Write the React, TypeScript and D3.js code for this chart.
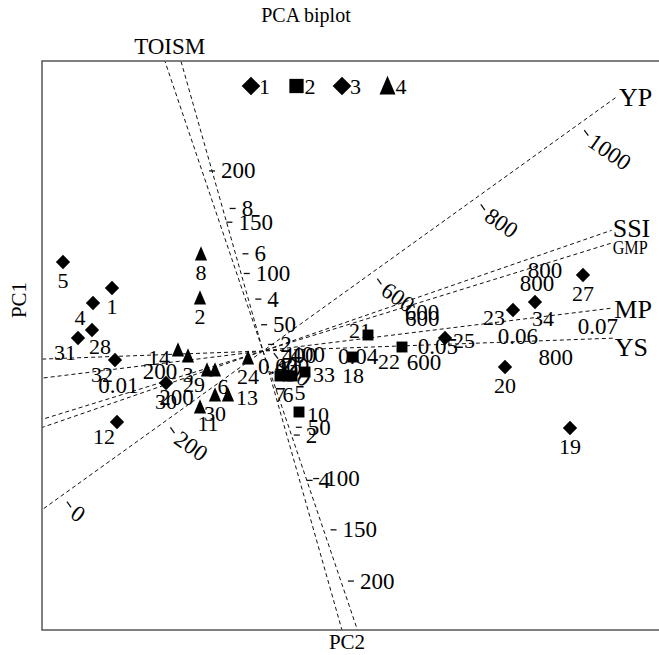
import React from 'react';
import * as d3 from 'd3';

const W = 659;
const H = 655;

// genotype scores: pc2 horizontal, pc1 vertical
const genotype = ['5', '4', '1', '31', '28', '32', '12', '30', '8', '2', '14', '3', '29', '6', '30', '13', '11', '24',
  '7', '6', '5', '33', '18', '21', '22', '10', '25', '23', '34', '27', '20', '19'];
const group = [1, 1, 1, 1, 1, 1, 1, 1, 4, 4, 4, 4, 4, 4, 4, 4, 4, 4, 2, 2, 2, 2, 2, 2, 2, 2, 3, 3, 3, 3, 3, 3];
const pc2 = [-2.0, -1.7, -1.51, -1.85, -1.71, -1.48, -1.46, -0.97, -0.62, -0.63, -0.85, -0.75, -0.56, -0.48, -0.48, -0.35, -0.63, -0.15,
  0.17, 0.25, 0.29, 0.42, 0.9, 1.05, 1.39, 0.36, 1.82, 2.5, 2.72, 3.2, 2.42, 3.07];
const pc1 = [0.89, 0.48, 0.63, 0.13, 0.21, -0.09, -0.71, -0.32, 0.97, 0.53, 0.01, -0.05, -0.19, -0.19, -0.44, -0.44, -0.56, -0.07,
  -0.25, -0.25, -0.25, -0.21, -0.06, 0.16, 0.04, -0.61, 0.13, 0.41, 0.49, 0.76, -0.16, -0.77];
// where each genotype label sits relative to its marker
const labelSide = ['b', 'bl', 'b', 'bl', 'br', 'bl', 'bl', 'b', 'b', 'b', 'l', 'b', 'bl', 'br', 'b', 'r', 'br', 'b',
  'b', 'b', 'br', 'r', 'b', 'tl', 'bl', 'r', 'r', 'l', 'br', 'b', 'b', 'b'];

// calibrated variable axes
const axisName = ['YP', 'SSI', 'GMP', 'MP', 'YS', 'TOI', 'SM'];
const axisAngle = [35.7, 19.1, 17.2, 7.0, 2.1, 105.8, 108.7];
const axisLength = [4.36, 3.69, 3.65, 3.53, 3.5, 3.01, 3.06];
const axisAtOrigin = [388, 341, 322, 0.0281, 356, 1.71, 24.4];
const axisUnit = [0.00637, 0.0065, 0.006, 80.5, 0.0066, 0.2355, 0.010825];
const axisTicks = [
  [0, 200, 400, 600, 800, 1000],
  [200, 400, 600, 800],
  [400, 600, 800],
  [0.01, 0.03, 0.04, 0.05, 0.06, 0.07],
  [200, 400, 600, 800],
  [-4, -2, 2, 4, 6, 8],
  [-200, -150, -100, -50, 50, 100, 150, 200],
];

const legendGroups = [1, 2, 3, 4];

const FONT = "'Liberation Serif', 'Times New Roman', serif";

const sideOffset: Record<string, [number, number]> = {
  b: [0, 18], bl: [-13, 14], br: [8, 16], l: [-19, 7], r: [19, 2], tl: [-8, -5],
};

const marker = (g: number, s: number) => {
  if (g === 2) return `M${-s * 0.42},${-s * 0.42}h${s * 0.84}v${s * 0.84}h${-s * 0.84}Z`;
  if (g === 4) return `M0,${-s * 0.6}L${s * 0.47},${s * 0.5}L${-s * 0.47},${s * 0.5}Z`;
  return `M0,${-s * 0.55}L${s * 0.55},0L0,${s * 0.55}L${-s * 0.55},0Z`;
};

const nameStyle: Record<string, { dx: number; dy: number; anchor: string; size: number; sx: number }> = {
  YP: { dx: 2, dy: 1, anchor: 'start', size: 26, sx: 1 },
  SSI: { dx: 1, dy: -2, anchor: 'start', size: 26, sx: 1 },
  GMP: { dx: 1, dy: 4, anchor: 'start', size: 19, sx: 0.85 },
  MP: { dx: 1, dy: 2, anchor: 'start', size: 26, sx: 1 },
  YS: { dx: 2, dy: 9, anchor: 'start', size: 26, sx: 1 },
  TOI: { dx: -9, dy: -15, anchor: 'end', size: 23, sx: 1 },
  SM: { dx: 7, dy: -15, anchor: 'start', size: 23, sx: 1 },
};

export default function App() {
  const x = d3.scaleLinear().domain([-2.21, 4.57]).range([42, 720]);
  const y = d3.scaleLinear().domain([-2.79, 2.9]).range([630, 61]);

  const axes = axisName.map((name, i) => {
    const a = (axisAngle[i] * Math.PI) / 180;
    const ux = Math.cos(a);
    const uy = Math.sin(a);
    const pt = (d: number): [number, number] => [x(d * ux), y(d * uy)];
    const nx = uy;
    const ny = ux;
    const ticks = axisTicks[i].map((v) => ({ v, p: pt((v - axisAtOrigin[i]) * axisUnit[i]) }));
    return { name, far: pt(-9), end: pt(axisLength[i]), ticks, nx, ny };
  });

  return (
    <svg width={W} height={H} style={{ display: 'block', position: 'absolute', left: 0, top: 0 }}>
      <defs>
        <clipPath id="plotArea">
          <rect x={42} y={61} width={700} height={569} />
        </clipPath>
      </defs>
      <rect width={W} height={H} fill="#fff" />
      <text x={306} y={15} textAnchor="middle" dominantBaseline="central" fontFamily={FONT} fontSize={20}>PCA biplot</text>

      <g clipPath="url(#plotArea)">
        {axes.map((ax) => (
          <line key={ax.name} x1={ax.far[0]} y1={ax.far[1]} x2={ax.end[0]} y2={ax.end[1]}
            stroke="#111" strokeWidth={1} strokeDasharray="4 3" />
        ))}
      </g>

      {axes.map((ax) => {
        const st = nameStyle[ax.name];
        const tx = ax.end[0] + st.dx;
        return (
          <text key={ax.name + 'n'} x={tx} y={ax.end[1] + st.dy} textAnchor={st.anchor}
            dominantBaseline="central" fontFamily={FONT} fontSize={st.size}
            transform={st.sx !== 1 ? `translate(${tx},0) scale(${st.sx},1) translate(${-tx},0)` : undefined}>
            {ax.name}
          </text>
        );
      })}

      {axes.map((ax) =>
        ax.ticks.map((t, j) => {
          const [px, py] = t.p;
          const label = String(Math.abs(t.v));
          if (ax.name === 'YP') {
            const lx = px + ax.nx * 19;
            const ly = py + ax.ny * 19;
            return (
              <g key={ax.name + j}>
                <line x1={px + ax.nx * 8} y1={py + ax.ny * 8} x2={px + ax.nx * 15} y2={py + ax.ny * 15} stroke="#111" strokeWidth={1.3} />
                <text x={lx} y={ly} transform={`rotate(35,${lx},${ly})`} fontFamily={FONT} fontSize={23}
                  dominantBaseline="central">{label}</text>
              </g>
            );
          }
          if (ax.name === 'TOI' || ax.name === 'SM') {
            return (
              <g key={ax.name + j}>
                <line x1={px + 7} y1={py} x2={px + 13} y2={py} stroke="#111" strokeWidth={1.3} />
                <text x={px + 19} y={py} fontFamily={FONT} fontSize={23} dominantBaseline="central">{label}</text>
              </g>
            );
          }
          return (
            <text key={ax.name + j} x={px} y={py + 17} textAnchor="middle" fontFamily={FONT} fontSize={23}
              dominantBaseline="central">{label}</text>
          );
        })
      )}

      {genotype.map((g, i) => {
        const cx = x(pc2[i]);
        const cy = y(pc1[i]);
        const [dx, dy] = sideOffset[labelSide[i]];
        return (
          <g key={'p' + i}>
            <path d={marker(group[i], 13)} transform={`translate(${cx},${cy})`} fill="#000" />
            <text x={cx + dx} y={cy + dy} textAnchor="middle" dominantBaseline="central" fontFamily={FONT} fontSize={22}>{g}</text>
          </g>
        );
      })}

      {legendGroups.map((g, i) => {
        const lx = 251 + i * 45.5;
        return (
          <g key={'lg' + g}>
            <path d={marker(g, 17)} transform={`translate(${lx},86)`} fill="#000" />
            <text x={lx + 8} y={86} fontFamily={FONT} fontSize={22} dominantBaseline="central">{g}</text>
          </g>
        );
      })}

      <path d="M720,61H42V630H720" fill="none" stroke="#555" strokeWidth={1.5} />
      <text x={19} y={300} transform="rotate(-90,19,300)" textAnchor="middle" dominantBaseline="central" fontFamily={FONT} fontSize={21}>PC1</text>
      <text x={347} y={642} textAnchor="middle" dominantBaseline="central" fontFamily={FONT} fontSize={21}>PC2</text>
    </svg>
  );
}
